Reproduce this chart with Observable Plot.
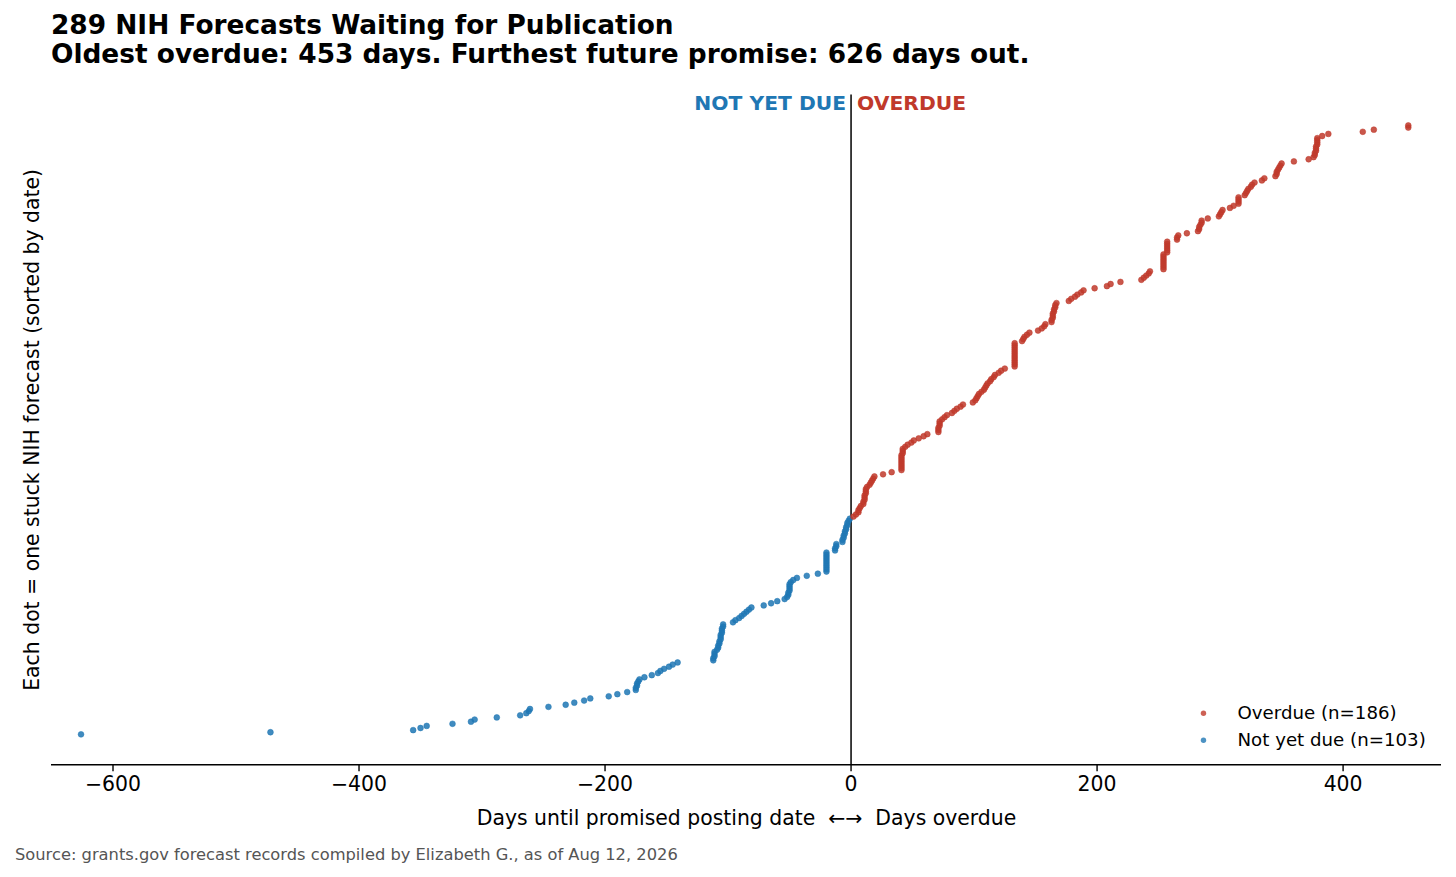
<!DOCTYPE html>
<html>
<head>
<meta charset="utf-8">
<script src="https://cdn.jsdelivr.net/npm/d3@7"></script>
<script src="https://cdn.jsdelivr.net/npm/@observablehq/plot@0.6"></script>
<style>
  html, body { margin: 0; padding: 0; background: #fff; }
  body { width: 1456px; height: 877px; position: relative; overflow: hidden; font-family: "DejaVu Sans", sans-serif; }
  #title { position: absolute; left: 51px; top: 11px; font-weight: bold; font-size: 26.4px; line-height: 28.5px; color: #000; white-space: nowrap; }
  #chart { position: absolute; left: 0; top: 70px; }
  #caption { position: absolute; left: 15px; top: 840px; font-size: 16.3px; line-height: 30px; color: #555; white-space: nowrap; }
</style>
</head>
<body>
<div id="title"></div>
<div id="chart"></div>
<div id="caption">Source: grants.gov forecast records compiled by Elizabeth G., as of Aug 12, 2026</div>
<script>
// Days relative to promised posting date (negative = not yet due), sorted ascending
const notYetDue = [
  -626, -472, -356, -350, -345, -324, -309, -306,
  -288, -269, -264, -262, -261,
  -246, -232, -225, -217, -212,
  -197, -190, -182,
  -175, -175, -174, -174, -173, -172,
  -168, -162, -157, -155, -152, -148, -145, -141,
  -112, -112, -111, -111, -111,
  -109, -108, -108, -107, -107, -106, -106, -106, -105, -105, -105, -104, -104,
  -96, -94, -91, -89, -87, -85, -83, -81,
  -71, -65, -60, -54,
  -52, -51, -51, -50, -50, -50, -50, -49,
  -47, -44, -36, -27,
  -20, -20, -20, -20, -20, -20, -20, -20, -20, -20,
  -13, -13, -12, -12,
  -7, -7, -6, -6, -5, -5, -4, -4, -3, -3, -2, -1
];
const overdue = [
  2, 4, 6, 6, 7, 8,
  10, 10, 11, 11, 11, 12, 12, 12, 13,
  15, 16, 17, 18, 19,
  26, 33,
  41, 41, 41, 41, 41, 41, 41, 41, 42, 42, 42,
  44, 46, 49,
  51, 55, 59, 62,
  71, 71, 71, 72, 72, 72,
  74, 76, 78,
  82, 84, 86, 89,
  91, 99,
  101, 102, 103, 104, 106,
  108, 109, 110, 111,
  113, 114, 116, 117,
  120, 122, 125,
  133, 133, 133, 133, 133, 133, 133, 133, 133, 133, 133, 133,
  139, 140, 141, 143, 145,
  152, 155, 157, 158,
  163, 163, 164, 164, 164, 165, 165, 166, 166, 167,
  177, 179, 182, 184, 187, 189,
  198, 208, 211, 219,
  236, 238, 240, 242, 243,
  254, 254, 254, 254, 254, 254, 254, 254,
  257, 257, 257, 257, 257, 257,
  265, 265, 266,
  273,
  282, 283, 283, 284, 285, 285,
  290,
  299, 300, 301, 302,
  308, 311,
  315, 315, 315, 315,
  320, 321, 322, 323, 325, 326, 328,
  334, 336,
  345, 346, 346, 347, 348, 349, 350,
  360, 372,
  376, 377, 377, 378, 378, 378, 379, 379, 379, 379,
  383, 388, 416, 425, 453, 453
];
const xTicks = [-600, -400, -200, 0, 200, 400];
const statusNames = ["Overdue", "Not yet due"];

const BLUE = "#1f77b4";
const RED = "#c0392b";

const data = [
  ...notYetDue.map(v => ({days: v, status: "Not yet due"})),
  ...overdue.map(v => ({days: v, status: "Overdue"}))
].map((d, i) => ({...d, rank: i}));

const n = data.length;
const yDomain = [-0.05 * (n - 1), (n - 1) * 1.05];

document.getElementById("title").innerHTML =
  `${n} NIH Forecasts Waiting for Publication<br>` +
  `Oldest overdue: ${d3.max(overdue)} days. Furthest future promise: ${Math.abs(d3.min(notYetDue))} days out.`;

const legendOver = [{label: `${statusNames[0]} (n=${overdue.length})`, status: "Overdue"}];
const legendNot = [{label: `${statusNames[1]} (n=${notYetDue.length})`, status: "Not yet due"}];

const FS = 20.4;

const chart = Plot.plot({
  width: 1456,
  height: 770,
  marginTop: 24.5,
  marginLeft: 51,
  marginRight: 15,
  marginBottom: 75.7,
  style: {fontFamily: "DejaVu Sans, sans-serif", background: "#fff", color: "#000", overflow: "visible"},
  x: {domain: [-650, 480]},
  y: {domain: yDomain, axis: null},
  color: {domain: ["Not yet due", "Overdue"], range: [BLUE, RED]},
  marks: [
    Plot.ruleX([0], {stroke: "#000", strokeWidth: 1.5}),
    Plot.dot(data, {x: "days", y: "rank", fill: "status", r: 2.9, fillOpacity: 0.85, stroke: "status", strokeOpacity: 0.85, strokeWidth: 0.6}),
    Plot.ruleY([yDomain[0]], {stroke: "#000", strokeWidth: 1.6}),
    Plot.axisX(xTicks, {tickSize: 7, tickPadding: 5, fontSize: FS, strokeWidth: 1.4, tickFormat: d3.format("d"), label: null}),
    Plot.text(["Days until promised posting date  \u2190\u2192  Days overdue"], {frameAnchor: "bottom", dy: 54, fontSize: FS, lineAnchor: "middle", fill: "#000"}),
    Plot.text(["Each dot = one stuck NIH forecast (sorted by date)"], {frameAnchor: "left", rotate: -90, dx: -19, fontSize: FS, lineAnchor: "middle", textAnchor: "middle", fill: "#000"}),
    Plot.text(["NOT YET DUE"], {x: () => 0, frameAnchor: "top", dy: 8, dx: -5, textAnchor: "end", lineAnchor: "middle", fontWeight: "bold", fontSize: 20.3, fill: BLUE}),
    Plot.text(["OVERDUE"], {x: () => 0, frameAnchor: "top", dy: 8, dx: 6, textAnchor: "start", lineAnchor: "middle", fontWeight: "bold", fontSize: 20.3, fill: RED}),
    Plot.dot(legendOver, {frameAnchor: "bottom-right", dx: -238, dy: -51.5, fill: "status", r: 2.7, fillOpacity: 0.8}),
    Plot.text(legendOver, {frameAnchor: "bottom-right", dx: -204, dy: -51.5, text: "label", textAnchor: "start", lineAnchor: "middle", fontSize: 18.2, fill: "#000"}),
    Plot.dot(legendNot, {frameAnchor: "bottom-right", dx: -238, dy: -24.5, fill: "status", r: 2.7, fillOpacity: 0.8}),
    Plot.text(legendNot, {frameAnchor: "bottom-right", dx: -204, dy: -24.5, text: "label", textAnchor: "start", lineAnchor: "middle", fontSize: 18.2, fill: "#000"})
  ]
});
document.getElementById("chart").appendChild(chart);
</script>
</body>
</html>
